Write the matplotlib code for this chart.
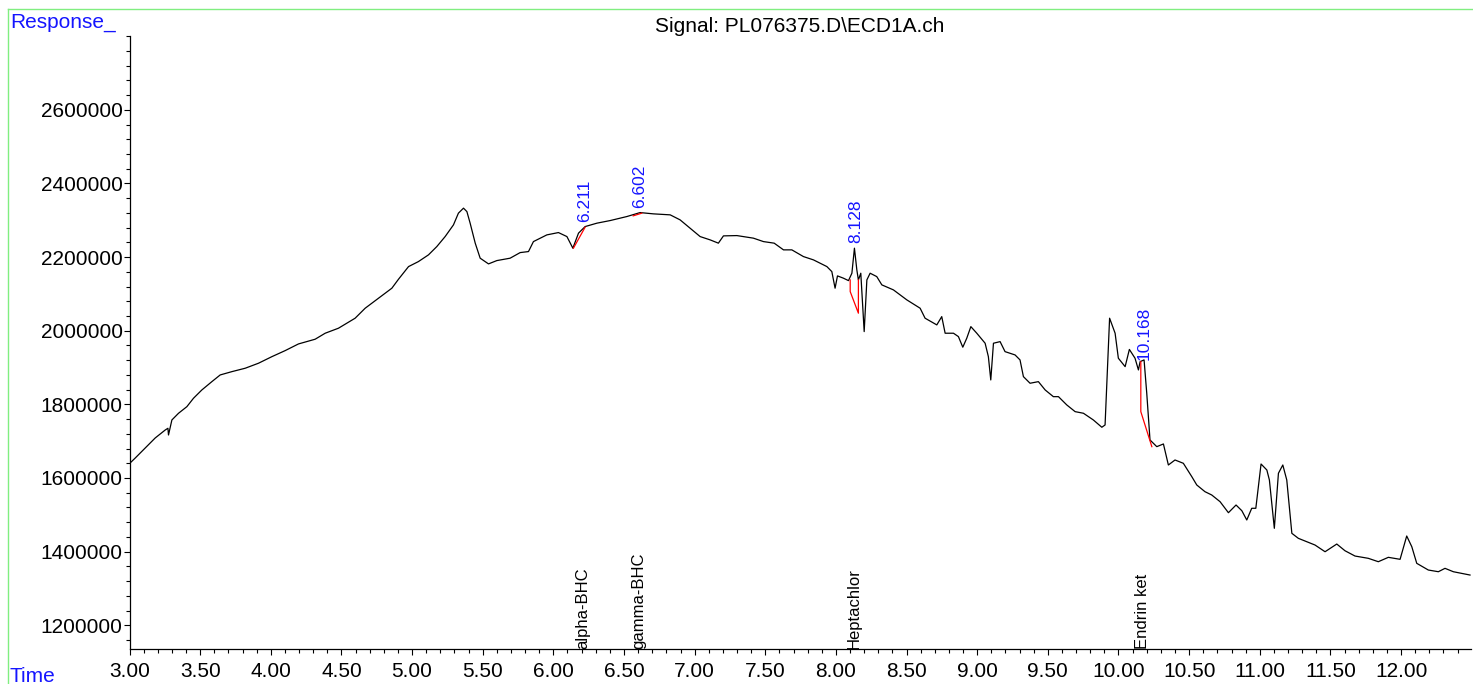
import numpy as np
import matplotlib
matplotlib.use("Agg")
import matplotlib.pyplot as plt
from matplotlib.ticker import MultipleLocator, FixedLocator
from matplotlib.lines import Line2D

plt.rcParams['font.family'] = ['Liberation Sans', 'DejaVu Sans']

# chromatogram trace (time in min, response)
time = [3.005, 3.040, 3.111, 3.182, 3.253, 3.272, 3.276, 3.300, 3.347, 3.406,
        3.453, 3.512, 3.583, 3.642, 3.725, 3.819, 3.913, 4.008, 4.102, 4.196,
        4.314, 4.385, 4.479, 4.597, 4.668, 4.762, 4.857, 4.904, 4.975, 5.045,
        5.116, 5.175, 5.234, 5.293, 5.328, 5.364, 5.388, 5.411, 5.447, 5.482,
        5.541, 5.600, 5.694, 5.765, 5.824, 5.859, 5.954, 6.036, 6.096, 6.138,
        6.178, 6.225, 6.308, 6.402, 6.520, 6.614, 6.708, 6.827, 6.897, 6.968,
        7.039, 7.110, 7.168, 7.204, 7.299, 7.416, 7.487, 7.563, 7.629, 7.688,
        7.770, 7.841, 7.936, 7.971, 7.994, 8.011, 8.053, 8.089, 8.113, 8.131,
        8.148, 8.159, 8.176, 8.200, 8.219, 8.242, 8.289, 8.325, 8.407, 8.502,
        8.596, 8.631, 8.714, 8.749, 8.773, 8.832, 8.867, 8.898, 8.926, 8.955,
        8.997, 9.056, 9.079, 9.096, 9.115, 9.162, 9.197, 9.268, 9.303, 9.327,
        9.374, 9.433, 9.481, 9.539, 9.575, 9.634, 9.693, 9.752, 9.822, 9.882,
        9.905, 9.937, 9.976, 9.999, 10.047, 10.077, 10.117, 10.141, 10.153, 10.181,
        10.200, 10.223, 10.271, 10.318, 10.353, 10.400, 10.459, 10.519, 10.554, 10.612,
        10.660, 10.719, 10.778, 10.832, 10.873, 10.908, 10.943, 10.972, 11.009, 11.050,
        11.068, 11.103, 11.132, 11.163, 11.191, 11.227, 11.273, 11.391, 11.462, 11.545,
        11.603, 11.674, 11.768, 11.839, 11.910, 11.993, 12.040, 12.076, 12.111, 12.193,
        12.264, 12.311, 12.370, 12.429, 12.488]
response = [1641000, 1654000, 1681500, 1708700, 1730400, 1735000, 1716800, 1757600, 1775800, 1793700,
            1816600, 1839100, 1861700, 1879900, 1888900, 1898100, 1911700, 1929600, 1946000, 1964100,
            1976900, 1993200, 2006800, 2034000, 2061100, 2088300, 2115500, 2139900, 2174200, 2187800,
            2206000, 2228500, 2255700, 2287500, 2319300, 2332900, 2323600, 2292100, 2237800, 2197000,
            2181500, 2190500, 2197000, 2212200, 2215000, 2242100, 2260300, 2266600, 2255700, 2224200,
            2265000, 2282900, 2292100, 2299200, 2310100, 2320900, 2317400, 2314700, 2301100, 2278500,
            2255700, 2246700, 2237800, 2257600, 2258400, 2251400, 2242100, 2237800, 2219600, 2219600,
            2201400, 2192400, 2174200, 2160600, 2115500, 2148900, 2142700, 2136100, 2156200, 2224200,
            2165200, 2138000, 2156200, 1997600, 2138000, 2156200, 2147000, 2124500, 2110900, 2083700,
            2061100, 2034000, 2015800, 2038300, 1993200, 1993200, 1984000, 1955200, 1979600, 2011100,
            1993200, 1966000, 1929600, 1866300, 1966000, 1970400, 1943200, 1934200, 1920700, 1875300,
            1857300, 1861700, 1839100, 1820900, 1820900, 1798400, 1780200, 1775800, 1757600, 1737800,
            1744000, 2034000, 1993200, 1925300, 1902400, 1949200, 1925300, 1893500, 1916000, 1920700,
            1830200, 1703300, 1685100, 1692400, 1635300, 1648900, 1639900, 1603500, 1581000, 1562800,
            1553800, 1535600, 1505700, 1526600, 1511100, 1485900, 1517700, 1517700, 1638000, 1621700,
            1594600, 1463300, 1612800, 1635300, 1594600, 1449700, 1436100, 1417900, 1399700, 1420600,
            1402400, 1388000, 1381800, 1372600, 1384500, 1379100, 1442400, 1413300, 1368200, 1350000,
            1345400, 1354600, 1345400, 1341000, 1336400]

# integration baselines (red)
base_t = [[6.142, 6.225], [6.565, 6.626], [8.101, 8.101, 8.159, 8.159], [10.158, 10.158, 10.236]]
base_r = [[2224200, 2281300], [2312000, 2319300], [2138100, 2106300, 2047600, 2138100],
          [1916000, 1780200, 1685100]]

# peak labels
peak_rt = [6.211, 6.602, 8.128, 10.168]
peak_lbl = ['6.211', '6.602', '8.128', '10.168']
peak_lbl_y = [2294000, 2333000, 2237000, 1920000]
compounds = ['alpha-BHC', 'gamma-BHC', 'Heptachlor', 'Endrin ket']

yticks = [1200000, 1400000, 1600000, 1800000, 2000000, 2200000, 2400000, 2600000]
xticks = [3.0, 3.5, 4.0, 4.5, 5.0, 5.5, 6.0, 6.5, 7.0, 7.5, 8.0, 8.5, 9.0, 9.5, 10.0,
          10.5, 11.0, 11.5, 12.0]

W, H = 1473, 684
fig = plt.figure(figsize=(W / 100, H / 100), dpi=100)
ax = fig.add_axes([129.5 / W, 1 - 649 / H, (1471 - 129.5) / W, (649 - 36) / H])

ax.plot(time, response, color='black', lw=0.9)
for bt, br in zip(base_t, base_r):
    ax.plot(bt, br, color='red', lw=0.9)

for rt, lbl, ly, cmp in zip(peak_rt, peak_lbl, peak_lbl_y, compounds):
    ax.text(rt + 0.01, ly, lbl, rotation=90, ha='center', va='bottom',
            color='#1515ff', fontsize=12.5)
    ax.text(rt, 0.0, cmp, rotation=90, ha='center', va='bottom', color='black',
            fontsize=12)
    ax.texts[-1].set_transform(ax.get_xaxis_transform())

ax.set_xlim(3.0, 12.495)
ax.set_ylim(1135500, 2800500)
ax.xaxis.set_major_locator(FixedLocator(xticks))
ax.xaxis.set_minor_locator(MultipleLocator(0.1))
ax.yaxis.set_major_locator(FixedLocator(yticks))
ax.yaxis.set_minor_locator(MultipleLocator(40000))
ax.set_xticklabels(['%.2f' % v for v in xticks])
ax.set_yticklabels(['%d' % v for v in yticks])

for s in ['top', 'right']:
    ax.spines[s].set_visible(False)
ax.spines['left'].set_linewidth(0.9)
ax.spines['bottom'].set_linewidth(0.9)
ax.tick_params(axis='both', which='major', direction='out', length=4.5, width=0.8,
               labelsize=15)
ax.tick_params(axis='both', which='minor', direction='out', length=2.8, width=0.8)
ax.tick_params(axis='y', which='major', pad=0.5)
ax.tick_params(axis='x', which='major', pad=5)

fig.text(0.543, 1 - 26 / H, 'Signal: PL076375.D\\ECD1A.ch', ha='center', va='center',
         fontsize=15)
fig.text(10 / W, 1 - 22 / H, 'Response_', ha='left', va='center', fontsize=15,
         color='#1515ff')
fig.text(10 / W, 1 - 677 / H, 'Time', ha='left', va='center', fontsize=15,
         color='#1515ff')

# light green frame (top and left edges)
fig.add_artist(Line2D([8 / W, 8 / W], [0, 1 - 9 / H], color='#80ee80', lw=1,
                      transform=fig.transFigure))
fig.add_artist(Line2D([8 / W, 1], [1 - 9 / H, 1 - 9 / H], color='#80ee80', lw=1,
                      transform=fig.transFigure))

fig.savefig('out.png', dpi=100)
